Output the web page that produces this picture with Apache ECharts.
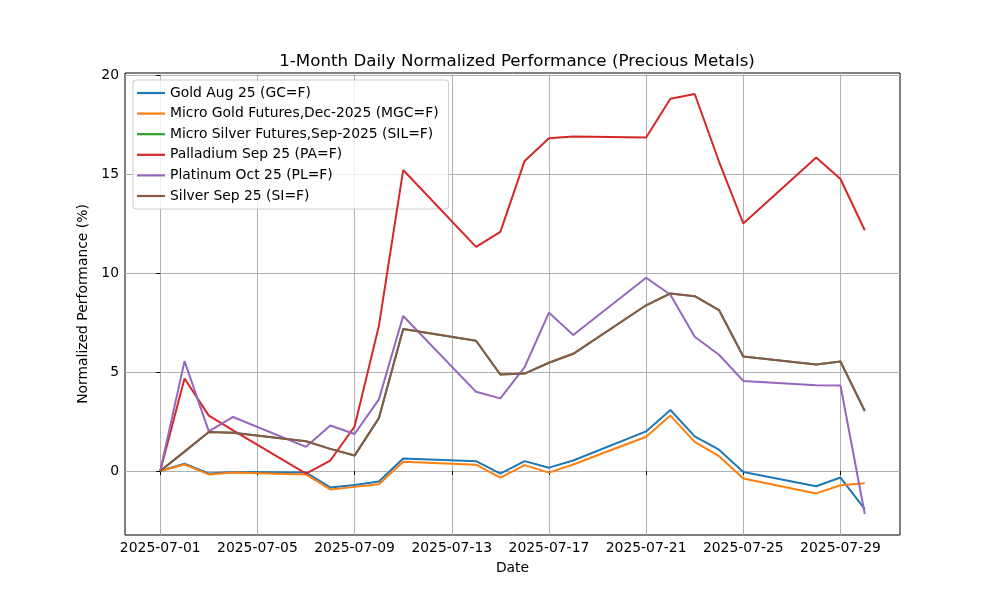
<!DOCTYPE html>
<html><head><meta charset="utf-8">
<script src="https://cdn.jsdelivr.net/npm/echarts@6/dist/echarts.min.js"></script>
<style>html,body{margin:0;padding:0;background:#fff}#c{width:1000px;height:600px}</style>
</head><body><div id="c"></div>
<script>
const dates = ['2025-07-01','2025-07-02','2025-07-03','2025-07-04','2025-07-07','2025-07-08','2025-07-09','2025-07-10','2025-07-11','2025-07-14','2025-07-15','2025-07-16','2025-07-17','2025-07-18','2025-07-21','2025-07-22','2025-07-23','2025-07-24','2025-07-25','2025-07-28','2025-07-29','2025-07-30'];
const seriesNames = ['Gold Aug 25 (GC=F)','Micro Gold Futures,Dec-2025 (MGC=F)','Micro Silver Futures,Sep-2025 (SIL=F)','Palladium Sep 25 (PA=F)','Platinum Oct 25 (PL=F)','Silver Sep 25 (SI=F)'];
const gold = [0,0.37,-0.12,-0.05,-0.08,-0.83,-0.70,-0.53,0.63,0.50,-0.13,0.50,0.17,0.53,2.00,3.08,1.75,1.08,-0.05,-0.77,-0.33,-1.92];
const microGold = [0,0.33,-0.17,-0.07,-0.17,-0.93,-0.80,-0.67,0.47,0.32,-0.33,0.30,-0.08,0.33,1.73,2.80,1.47,0.75,-0.38,-1.13,-0.72,-0.62];
const microSilver = [0,0.98,1.97,1.93,1.50,1.12,0.78,2.67,7.17,6.58,4.87,4.92,5.47,5.92,8.37,8.97,8.83,8.13,5.78,5.38,5.53,3.03];
const palladium = [0,4.67,2.80,2.05,-0.13,0.53,2.25,7.33,15.20,11.32,12.08,15.66,16.80,16.89,16.84,18.80,19.04,15.63,12.50,15.83,14.75,12.16];
const platinum = [0,5.55,2.00,2.73,1.22,2.30,1.87,3.62,7.83,4.00,3.67,5.25,8.00,6.87,9.76,8.90,6.78,5.87,4.55,4.33,4.32,-2.17];
const silver = [0,0.98,1.97,1.93,1.50,1.12,0.78,2.67,7.17,6.58,4.87,4.92,5.47,5.92,8.37,8.97,8.83,8.13,5.78,5.38,5.53,3.03];
const xTickLabels = ['2025-07-01','2025-07-05','2025-07-09','2025-07-13','2025-07-17','2025-07-21','2025-07-25','2025-07-29'];
const yTickValues = [0,5,10,15,20];

const colors = ['#1f77b4','#ff7f0e','#2ca02c','#d62728','#9467bd','#8c564b'];
const DAY = 86400000;
const t0 = Date.parse('2025-07-01T00:00:00Z');
const toDay = s => (Date.parse(s + 'T00:00:00Z') - t0) / DAY;
const xs = dates.map(toDay);
const xTickValues = xTickLabels.map(toDay);
const allSeries = [gold, microGold, microSilver, palladium, platinum, silver];
const xSpan = xs[xs.length-1] - xs[0];
const allVals = allSeries.flat();
const yMinD = Math.min(...allVals), yMaxD = Math.max(...allVals);
const ySpan = yMaxD - yMinD;

const font = 'DejaVu Sans';
const chart = echarts.init(document.getElementById('c'));
chart.setOption({
  animation: false,
  color: colors,
  title: { text: '1-Month Daily Normalized Performance (Precious Metals)', left: 512, top: 48, textAlign: 'center',
    textStyle: { fontFamily: font, fontSize: 16.7, fontWeight: 'normal', color: '#000' } },
  grid: { left: 125, right: 100, top: 73, bottom: 65, show: true, borderColor: '#000', borderWidth: 1, containLabel: false },
  legend: {
    orient: 'vertical', left: 133, top: 80, padding: [5, 10, 5, 4],
    icon: 'rect', itemWidth: 28, itemHeight: 2.2, itemGap: 4.6,
    backgroundColor: 'rgba(255,255,255,0.8)', borderColor: '#cccccc', borderWidth: 1, borderRadius: 3,
    textStyle: { fontFamily: font, fontSize: 13.9, color: '#000', lineHeight: 16 },
    data: seriesNames
  },
  xAxis: {
    type: 'value', min: xs[0] - 0.05 * xSpan, max: xs[xs.length-1] + 0.05 * xSpan,
    name: 'Date', nameLocation: 'middle', nameGap: 26,
    nameTextStyle: { fontFamily: font, fontSize: 13.9, color: '#000' },
    axisLine: { show: false },
    axisTick: { show: true, inside: false, length: 4, lineStyle: { color: '#000' }, customValues: xTickValues },
    axisLabel: { customValues: xTickValues, margin: 6, fontFamily: font, fontSize: 13.9, color: '#000',
      formatter: v => xTickLabels[xTickValues.indexOf(v)] },
    splitLine: { show: true, lineStyle: { color: '#b0b0b0', width: 1 } }
  },
  yAxis: {
    type: 'value', min: yMinD - 0.05 * ySpan, max: yMaxD + 0.05 * ySpan,
    name: 'Normalized Performance (%)', nameLocation: 'middle', nameGap: 33, nameRotate: 90,
    nameTextStyle: { fontFamily: font, fontSize: 13.9, color: '#000' },
    axisLine: { show: false },
    axisTick: { show: true, inside: false, length: 4, lineStyle: { color: '#000' }, customValues: yTickValues },
    axisLabel: { customValues: yTickValues, margin: 6, fontFamily: font, fontSize: 13.9, color: '#000' },
    splitLine: { show: true, lineStyle: { color: '#b0b0b0', width: 1 } }
  },
  series: allSeries.map((vals, i) => ({
    name: seriesNames[i], type: 'line', symbol: 'none', showSymbol: false,
    lineStyle: { width: 2, color: colors[i] }, itemStyle: { color: colors[i] },
    data: vals.map((v, j) => [xs[j], v]), z: 2 + i
  }))
});
</script></body></html>
